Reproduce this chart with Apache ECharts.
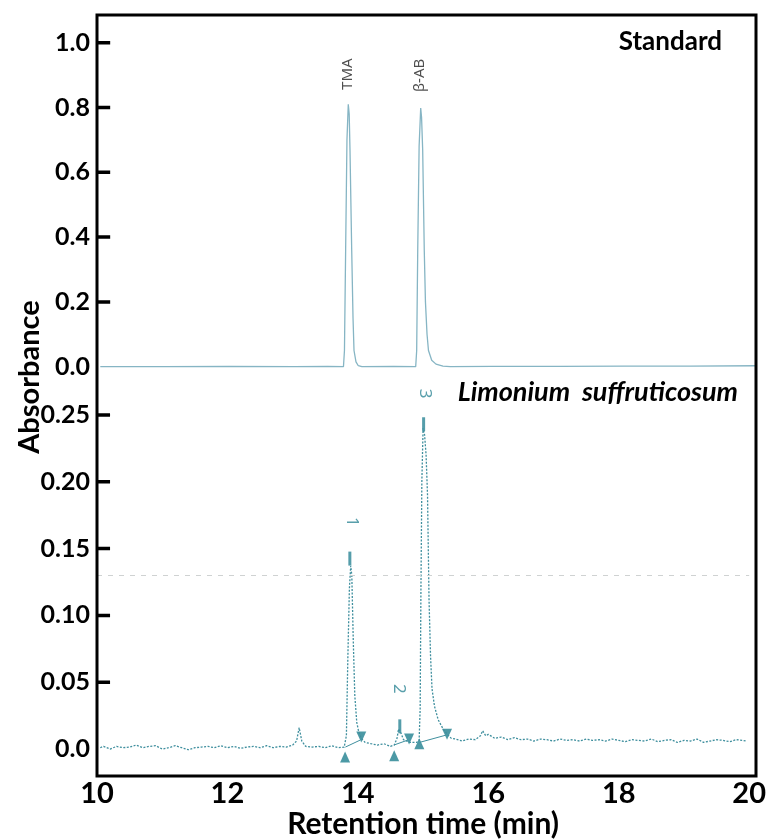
<!DOCTYPE html>
<html>
<head>
<meta charset="utf-8">
<script src="https://cdn.jsdelivr.net/npm/echarts@6/dist/echarts.min.js"></script>
<style>html,body{margin:0;padding:0;background:#fff}#c{width:769px;height:840px}</style>
</head>
<body>
<div id="c"></div>
<script>
// ---------- DATA ----------
// Standard chromatogram (top panel)
const stdTime = [10.05, 11.0, 12.0, 13.0, 13.5, 13.74, 13.755, 13.773, 13.793, 13.813, 13.827, 13.839, 13.865, 13.885, 13.9, 13.93, 13.965, 14.02, 14.5, 14.836, 14.851, 14.867, 14.888, 14.912, 14.925, 14.942, 14.966, 14.984, 15.008, 15.03, 15.079, 15.144, 15.25, 15.36, 16.0, 17.0, 18.0, 19.0, 20.0];
const stdAbs  = [0.0, 0.0, 0.001, 0.0, 0.001, 0.0, 0.05, 0.36, 0.7, 0.81, 0.78, 0.67, 0.36, 0.15, 0.05, 0.015, 0.003, 0.0, 0.001, 0.0, 0.05, 0.36, 0.68, 0.798, 0.77, 0.67, 0.36, 0.2, 0.1, 0.05, 0.02, 0.008, 0.002, 0.0, 0.001, 0.001, 0.002, 0.002, 0.003];
const stdLabels = [["TMA", 13.81, 0.903], ["\u03b2-AB", 14.90, 0.899]];

// Limonium suffruticosum chromatogram (bottom panel)
const sampleTime = [10.05, 10.1, 10.2, 10.3, 10.4, 10.5, 10.6, 10.7, 10.8, 10.9, 11.0, 11.1, 11.2, 11.3, 11.4, 11.5, 11.6, 11.7, 11.8, 11.9, 12.0, 12.1, 12.2, 12.3, 12.4, 12.5, 12.6, 12.7, 12.8, 12.9, 13.0, 13.06, 13.1, 13.14, 13.2, 13.3, 13.4, 13.5, 13.6, 13.7, 13.79,
  13.824, 13.847, 13.87, 13.89, 13.907, 13.93, 13.953, 13.983, 14.017, 14.052, 14.11, 14.2, 14.3, 14.4, 14.5, 14.557, 14.6, 14.624, 14.66, 14.7, 14.75, 14.8, 14.85, 14.9, 14.939,
  14.955, 14.967, 14.981, 15.0, 15.023, 15.046, 15.068, 15.091, 15.114, 15.137, 15.175, 15.231, 15.307, 15.372, 15.433, 15.5, 15.6, 15.7, 15.8, 15.88, 15.913, 15.96, 16.0, 16.1, 16.2, 16.3, 16.4, 16.5, 16.6, 16.7, 16.8, 16.9, 17.0,
  17.1, 17.2, 17.3, 17.4, 17.5, 17.6, 17.7, 17.8, 17.9, 18.0, 18.1, 18.2, 18.3, 18.4, 18.5, 18.6, 18.7, 18.8, 18.9, 19.0, 19.1, 19.2, 19.3, 19.4, 19.5, 19.6, 19.7, 19.8, 19.9, 19.95];
const sampleAbs = [0.001, 0.002, 0.0, 0.002, 0.001, 0.0015, 0.003, 0.001, 0.002, 0.0025, 0.0, 0.001, 0.0025, 0.001, -0.0005, 0.001, 0.0015, 0.002, 0.001, 0.0025, 0.001, 0.002, 0.0005, 0.0015, 0.002, 0.001, 0.0025, 0.001, 0.002, 0.0015, 0.003, 0.006, 0.016, 0.006, 0.002, 0.0015, 0.002, 0.001, 0.0025, 0.001, 0.0015,
  0.01, 0.07, 0.12, 0.137, 0.13, 0.08, 0.04, 0.02, 0.012, 0.008, 0.005, 0.004, 0.003, 0.004, 0.002, 0.003, 0.008, 0.015, 0.012, 0.007, 0.006, 0.005, 0.005, 0.005, 0.006,
  0.03, 0.12, 0.2, 0.24, 0.235, 0.22, 0.19, 0.112, 0.07, 0.045, 0.032, 0.022, 0.015, 0.011, 0.008, 0.0075, 0.006, 0.0075, 0.007, 0.01, 0.0137, 0.01, 0.011, 0.008, 0.009, 0.007, 0.0085, 0.007, 0.0075, 0.006, 0.0075, 0.007, 0.006,
  0.0075, 0.0065, 0.007, 0.006, 0.0075, 0.0065, 0.007, 0.006, 0.0075, 0.0065, 0.0055, 0.007, 0.0065, 0.006, 0.0075, 0.0055, 0.0065, 0.007, 0.005, 0.0065, 0.006, 0.0075, 0.005, 0.006, 0.007, 0.0065, 0.0055, 0.007, 0.0065, 0.006];

// integration markers (peak start ▲ / peak end ▼)
const peakStart = [[13.804, -0.006], [14.557, -0.005], [14.942, 0.004]];
const peakEnd   = [[14.052, 0.009], [14.785, 0.0075], [15.367, 0.011]];
// integration baselines (start point, end point)
const baseLines = [[[13.809, 0.0015], [14.035, 0.0067]], [[14.552, 0.003], [14.765, 0.0067]], [[14.947, 0.005], [15.357, 0.0105]]];
// peak apex marks and peak numbers
const apexMarks = [[13.877, 0.1425], [14.643, 0.017], [15.008, 0.243]];
const peakNums  = [["1", 13.90, 0.170], ["2", 14.63, 0.045], ["3", 15.02, 0.266]];
const refLevel = 0.133;

// tick labels
const xTicks = [10, 12, 14, 16, 18, 20];
const topTicks = [0, 0.2, 0.4, 0.6, 0.8, 1.0];
const botTicks = [0, 0.05, 0.10, 0.15, 0.20, 0.25];

// ---------- CHART ----------
const FONT = 'Lato';
const BLACK = '#000';
const X_MIN = 10, X_MAX = 20;
const TICK_LEN = 0.2;   // tick length along the time axis (minutes)
const GRID_L = 97, GRID_R = 13, GRID_T = 15, SPLIT = 376, GRID_B = 776;
// vertical scale of each panel: px of value 0 and px per unit
const TOP_ZERO = 366.7, TOP_PX = 324;
const BOT_ZERO = 750, BOT_PX = 1340;
const chart = echarts.init(document.getElementById('c'));

const zip = (a, b) => a.map((v, i) => [v, b[i]]);
const blData = [];
baseLines.forEach((seg, i) => { if (i) blData.push([null, null]); blData.push(seg[0], seg[1]); });

// short segments drawn through the axes' scales: one per non-zero tick value
function tickData(ticks) {
  const out = [];
  ticks.filter(v => v !== 0).forEach((v, i) => {
    if (i) out.push([null, null]);
    out.push([X_MIN, v], [X_MIN + TICK_LEN, v]);
  });
  return out;
}
function tickSeries(gi, ticks) {
  return { type: 'line', xAxisIndex: gi, yAxisIndex: gi, data: tickData(ticks), showSymbol: false, symbol: 'none',
    connectNulls: false, clip: false, silent: true, z: 20, lineStyle: { color: BLACK, width: 3.5, cap: 'butt' } };
}

function yAx(gi, min, max, ticks, fmt) {
  return {
    type: 'value', gridIndex: gi, min, max,
    axisLine: { show: false, onZero: false },
    axisTick: { show: false },
    axisLabel: { show: true, customValues: ticks, formatter: fmt, color: BLACK, fontFamily: FONT, fontWeight: 'bold', fontSize: 25, margin: 7 },
    splitLine: { show: false }
  };
}
const hiddenPoint = { symbol: 'circle', symbolSize: 1, itemStyle: { color: 'rgba(0,0,0,0)' }, silent: true };

const graphics = [
  { id: 'frame', type: 'rect', z: 100, silent: true,
    shape: { x: GRID_L, y: GRID_T, width: 769 - GRID_R - GRID_L, height: GRID_B - GRID_T },
    style: { fill: null, stroke: BLACK, lineWidth: 3 } },
  { id: 'ytitle', type: 'text', x: 30, y: 377, rotation: Math.PI / 2,
    style: { text: 'Absorbance', font: 'bold 29px Lato', fill: BLACK, textAlign: 'center', textVerticalAlign: 'middle' } },
  { id: 't1', type: 'text', x: 722, y: 42,
    style: { text: 'Standard', font: 'bold 26px Lato', fill: BLACK, textAlign: 'right', textVerticalAlign: 'middle' } },
  { id: 't2', type: 'text', x: 738, y: 392,
    style: { text: 'Limonium  suffruticosum', font: 'italic bold 27px Lato', fill: BLACK, textAlign: 'right', textVerticalAlign: 'middle' } }
];

const option = {
  backgroundColor: '#fff',
  animation: false,
  grid: [
    { left: GRID_L, right: GRID_R, top: GRID_T, height: SPLIT - GRID_T },
    { left: GRID_L, right: GRID_R, top: SPLIT, height: GRID_B - SPLIT }
  ],
  xAxis: [
    { type: 'value', gridIndex: 0, min: X_MIN, max: X_MAX, show: false },
    { type: 'value', gridIndex: 1, min: X_MIN, max: X_MAX, position: 'bottom',
      axisLine: { show: false, onZero: false },
      axisTick: { show: false },
      axisLabel: { customValues: xTicks, color: BLACK, fontFamily: FONT, fontWeight: 'bold', fontSize: 29, margin: 4 },
      splitLine: { show: false },
      name: 'Retention time (min)', nameLocation: 'middle', nameGap: 34,
      nameTextStyle: { color: BLACK, fontFamily: FONT, fontWeight: 'bold', fontSize: 30 } }
  ],
  yAxis: [
    yAx(0, -(SPLIT - TOP_ZERO) / TOP_PX, (TOP_ZERO - GRID_T) / TOP_PX, topTicks, v => v.toFixed(1)),
    yAx(1, -(GRID_B - BOT_ZERO) / BOT_PX, (BOT_ZERO - SPLIT) / BOT_PX, botTicks, v => v === 0 ? '0.0' : v.toFixed(2))
  ],
  series: [
    tickSeries(0, topTicks),
    tickSeries(1, botTicks),
    { type: 'line', xAxisIndex: 0, yAxisIndex: 0, data: zip(stdTime, stdAbs), showSymbol: false, symbol: 'none',
      lineStyle: { color: '#86b5c4', width: 1.3 }, silent: true },
    Object.assign({ type: 'scatter', xAxisIndex: 0, yAxisIndex: 0,
      data: stdLabels.map(d => ({ value: [d[1], d[2]], name: d[0] })),
      label: { show: true, position: 'inside', rotate: 90, formatter: p => p.name, color: '#222', fontFamily: 'Noto Sans', fontSize: 15 } }, hiddenPoint),
    { type: 'line', xAxisIndex: 1, yAxisIndex: 1, data: zip(sampleTime, sampleAbs), showSymbol: false, symbol: 'none',
      lineStyle: { color: '#3f8f9e', width: 1.3, type: [2, 1.5] }, silent: true,
      markLine: { silent: true, symbol: 'none', label: { show: false },
        lineStyle: { color: '#cfd2d2', type: [5, 6], width: 1 },
        data: [{ yAxis: refLevel }] } },
    { type: 'line', xAxisIndex: 1, yAxisIndex: 1, data: blData, showSymbol: false, symbol: 'none', connectNulls: false,
      lineStyle: { color: '#3f8f9e', width: 1 }, silent: true },
    { type: 'scatter', xAxisIndex: 1, yAxisIndex: 1, data: peakStart, symbol: 'triangle', symbolSize: [10, 11],
      itemStyle: { color: '#1f7f8e' }, silent: true },
    { type: 'scatter', xAxisIndex: 1, yAxisIndex: 1, data: peakEnd, symbol: 'triangle', symbolRotate: 180, symbolSize: [10, 11],
      itemStyle: { color: '#1f7f8e' }, silent: true },
    { type: 'scatter', xAxisIndex: 1, yAxisIndex: 1, data: apexMarks, symbol: 'rect', symbolSize: [3, 14],
      itemStyle: { color: '#2a8595' }, silent: true },
    Object.assign({ type: 'scatter', xAxisIndex: 1, yAxisIndex: 1,
      data: peakNums.map(d => ({ value: [d[1], d[2]], name: d[0] })),
      label: { show: true, position: 'inside', rotate: -90, formatter: p => p.name, color: '#2f8796', fontFamily: 'Noto Sans', fontSize: 17 } }, hiddenPoint)
  ],
  graphic: graphics
};
chart.setOption(option);
</script>
</body>
</html>
